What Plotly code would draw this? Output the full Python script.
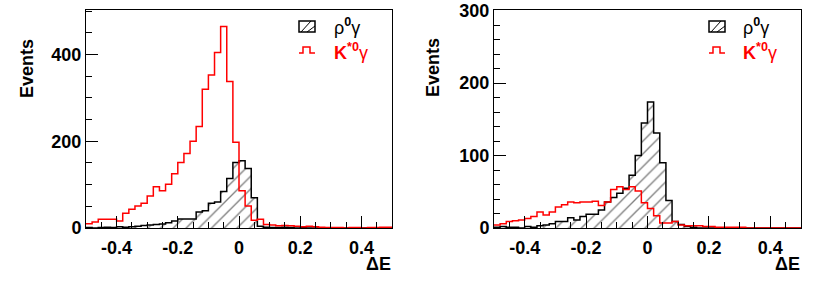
import numpy as np
import plotly.graph_objects as go

# ---- data (events per 0.02 GeV bin of Delta E, from -0.5 to 0.5) ----
bin_width = 0.02
bin_edges = np.round(np.linspace(-0.5, 0.5, 51), 3)
bin_centers = np.round(bin_edges[:-1] + bin_width / 2, 3)

left_rho = [1, 0, 1, 2, 1, 3, 2, 3, 4, 6,
            7, 8, 9, 12, 16, 21, 21, 21, 37, 40,
            57, 60, 84, 114, 151, 155, 137, 70, 4, 2,
            1, 1, 2, 1, 0, 1, 0, 0, 0, 0,
            0, 0, 0, 0, 0, 0, 0, 0, 0, 0]
left_kst = [10, 14, 20, 20, 20, 16, 34, 43, 51, 57,
            74, 95, 86, 101, 125, 151, 172, 200, 234, 320,
            353, 405, 465, 338, 198, 86, 51, 18, 20, 8,
            7, 5, 6, 5, 4, 3, 4, 3, 2, 1,
            1, 1, 0, 1, 1, 0, 1, 1, 2, 2]
right_rho = [1, 2, 1, 1, 0, 2, 1, 3, 4, 6,
             9, 9, 14, 11, 16, 19, 19, 25, 36, 42,
             48, 55, 73, 100, 145, 174, 131, 90, 38, 9,
             5, 2, 1, 0, 0, 0, 0, 0, 0, 0,
             0, 0, 0, 0, 0, 0, 0, 0, 0, 0]
right_kst = [4, 6, 9, 10, 11, 13, 16, 22, 18, 22,
             29, 32, 36, 35, 36, 36, 37, 31, 36, 53,
             57, 53, 57, 51, 35, 27, 17, 7, 7, 9,
             4, 3, 3, 3, 2, 2, 1, 1, 1, 1,
             1, 0, 0, 0, 0, 0, 0, 0, 0, 0]

x_tickvals = [-0.4, -0.2, 0, 0.2, 0.4]
x_ticktext = ["-0.4", "-0.2", "0", "0.2", "0.4"]
left_yticks = [0, 200, 400]
right_yticks = [0, 100, 200, 300]

W, H = 831, 289
FONT = "Liberation Sans"


def px(x):
    return x / W


def py(y):
    return 1 - y / H


fig = go.Figure()


def add_panel(xa, ya, rho, kst):
    fig.add_trace(go.Bar(
        x=bin_centers, y=rho, width=bin_width, xaxis=xa, yaxis=ya,
        marker=dict(color="rgba(0,0,0,0)", line=dict(width=0),
                    pattern=dict(shape="/", fgcolor="#000", bgcolor="rgba(0,0,0,0)",
                                 size=9, solidity=0.15)),
        showlegend=False, hoverinfo="skip"))
    fig.add_trace(go.Scatter(
        x=bin_edges, y=list(rho) + [rho[-1]], xaxis=xa, yaxis=ya, mode="lines",
        line=dict(color="black", width=1.5, shape="hv"), showlegend=False))
    fig.add_trace(go.Scatter(
        x=bin_edges, y=list(kst) + [kst[-1]], xaxis=xa, yaxis=ya, mode="lines",
        line=dict(color="#ff0000", width=1.5, shape="hv"), showlegend=False))


add_panel("x", "y", left_rho, left_kst)
add_panel("x2", "y2", right_rho, right_kst)

tickfont = dict(family=FONT, size=18, color="black", weight="bold")
xcommon = dict(range=[-0.5, 0.5], showgrid=False, zeroline=False, showline=True,
               mirror=True, linecolor="black", linewidth=1, ticks="inside",
               ticklen=12, tickwidth=1, tickcolor="black", automargin=False,
               tickmode="array", tickvals=x_tickvals, ticktext=x_ticktext,
               minor=dict(ticks="inside", ticklen=6, tickmode="linear", tick0=0,
                          dtick=0.05, tickcolor="black", showgrid=False),
               tickfont=tickfont, fixedrange=True, ticklabelstandoff=3)
ycommon = dict(showgrid=False, zeroline=False, showline=True, mirror=True,
               linecolor="black", linewidth=1, ticks="inside", ticklen=12,
               tickcolor="black", tickmode="array", automargin=False,
               tickfont=tickfont, fixedrange=True)
ydom = [(H - 228) / H, (H - 10) / H]

fig.update_layout(
    width=W, height=H, margin=dict(l=0, r=0, t=0, b=0, autoexpand=False),
    paper_bgcolor="white", plot_bgcolor="white", barmode="overlay",
    bargap=0,
    xaxis=dict(domain=[86 / W, 392 / W], anchor="y", **xcommon),
    xaxis2=dict(domain=[494 / W, 801 / W], anchor="y2", **xcommon),
    yaxis=dict(domain=ydom, anchor="x", range=[0, 503], tickvals=left_yticks,
               minor=dict(ticks="inside", ticklen=6, tickmode="linear", tick0=0,
                          dtick=50, tickcolor="black", showgrid=False),
               **ycommon),
    yaxis2=dict(domain=ydom, anchor="x2", range=[0, 301], tickvals=right_yticks,
                minor=dict(ticks="inside", ticklen=6, tickmode="linear", tick0=0,
                           dtick=20, tickcolor="black", showgrid=False),
                **ycommon),
)

annotations = []
shapes = []
for (ev_x, de_x, box_x, txt_x) in [(27, 378.5, 299, 332), (433, 787.5, 709, 741)]:
    annotations.append(dict(text="<b>Events</b>", x=px(ev_x), y=py(68), xref="paper",
                            yref="paper", showarrow=False, textangle=-90,
                            font=dict(family=FONT, size=18, color="black"),
                            xanchor="center", yanchor="middle"))
    annotations.append(dict(text="<b>ΔE</b>", x=px(de_x), y=py(264), xref="paper",
                            yref="paper", showarrow=False,
                            font=dict(family=FONT, size=18, color="black"),
                            xanchor="center", yanchor="middle"))
    # legend: hatched box
    x0, x1, y0, y1 = box_x, box_x + 16, 21, 32
    shapes.append(dict(type="rect", xref="paper", yref="paper", x0=px(x0), x1=px(x1),
                       y0=py(y1), y1=py(y0), line=dict(color="black", width=1.5),
                       fillcolor="white"))
    for (a0, b0, a1, b1) in [(x0 + 2, y1, x0 + 12, y0), (x0 + 8, y1, x1, y0 + 5)]:
        shapes.append(dict(type="line", xref="paper", yref="paper", x0=px(a0), y0=py(b0),
                           x1=px(a1), y1=py(b1), line=dict(color="black", width=1)))
    # legend: red step symbol
    pts = [(box_x, 53), (box_x + 4, 53), (box_x + 4, 47), (box_x + 11, 47),
           (box_x + 11, 53), (box_x + 16, 53)]
    path = "M " + " L ".join(f"{px(a):.5f},{py(b):.5f}" for a, b in pts)
    shapes.append(dict(type="path", xref="paper", yref="paper", path=path,
                       line=dict(color="#ff0000", width=1.5)))
    annotations.append(dict(text="ρ<sup><b>0</b></sup>γ", x=px(txt_x), y=py(27),
                            xref="paper", yref="paper", showarrow=False,
                            font=dict(family=FONT, size=18, color="black"),
                            xanchor="left", yanchor="middle"))
    annotations.append(dict(text="<b>K</b><sup><b>*0</b></sup>γ", x=px(txt_x), y=py(51),
                            xref="paper", yref="paper", showarrow=False,
                            font=dict(family=FONT, size=18, color="#ff0000"),
                            xanchor="left", yanchor="middle"))

fig.update_layout(annotations=annotations, shapes=shapes)
fig.write_html("out.html", config={"displayModeBar": False},
               post_script="document.body.style.margin='0px';"
                           "document.body.style.overflow='hidden';")
